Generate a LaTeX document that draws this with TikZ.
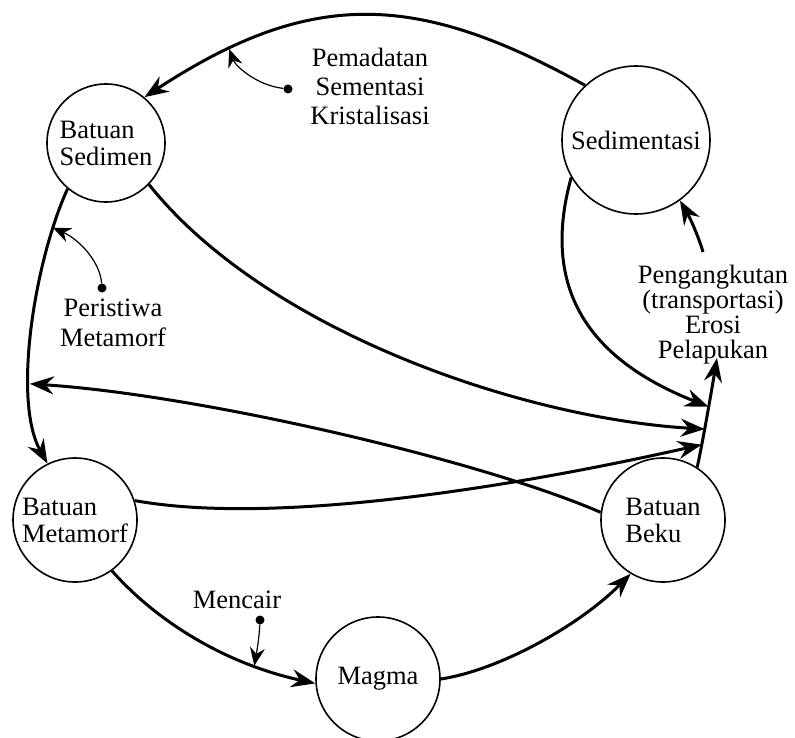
\documentclass[tikz,border=0pt]{standalone}
\usepackage{fontspec}
\setmainfont{Liberation Serif}
\usetikzlibrary{arrows.meta}
\begin{document}
\begin{tikzpicture}[x=1pt,y=-1pt,
  rock/.style={draw, circle, line width=1.6pt, inner sep=0pt, align=left,
    font=\fontsize{26.5}{27}\selectfont},
  flow/.style={line width=3pt, -{Stealth[length=24pt,width=18pt,inset=8pt]}},
  note/.style={line width=1.2pt, -{Stealth[length=18pt,width=15pt,inset=6pt]}},
  lbl/.style={align=center, inner sep=0pt},
  dotmark/.style={fill, circle, inner sep=0pt, minimum size=9pt}]
\useasboundingbox (0,0) rectangle (795,738);

% rock nodes
\node[rock, minimum size=118pt] (bs) at (106,143) {Batuan\\Sedimen};
\node[rock, minimum size=148pt] (sd) at (636,140) {Sedimentasi};
\node[rock, minimum size=124pt] (bm) at (75,520) {Batuan\\Metamorf};
\node[rock, minimum size=124pt] (mg) at (378,679) {Magma};
\node[rock, minimum size=124pt] (bb) at (663,520) {Batuan\\Beku};

% labels
\node[lbl, font=\fontsize{26.5}{29}\selectfont] (pem) at (370,86) {Pemadatan\\Sementasi\\Kristalisasi};
\node[lbl, font=\fontsize{26.5}{25}\selectfont] (peng) at (713,315) {Pengangkutan\\(transportasi)\\Erosi\\Pelapukan};
\node[lbl, font=\fontsize{26.5}{30}\selectfont] (per) at (113,323) {Peristiwa\\Metamorf};
\node[lbl, font=\fontsize{26.5}{27}\selectfont] (men) at (237,600) {Mencair};

\coordinate (peltip) at (717,358);
\coordinate (pengtop) at (703,252);

% weathering line from Batuan Beku
\draw[flow] (bb.57) .. controls (703,440) and (710,400) .. (peltip)
  coordinate[pos=0.25] (tipC) coordinate[pos=0.4] (tipB) coordinate[pos=0.6] (tipA);

% main cycle
\draw[flow] (sd.133) .. controls (417,-8) and (311,-12) .. (bs.50)
  coordinate[pos=0.82] (pemtip);
\draw[flow] (bs.-130) .. controls (35,260) and (12,400) .. (bm.116)
  coordinate[pos=0.16] (pertip) coordinate[pos=0.68] (lefttip);
\draw[flow] (bm.-54) .. controls (160,625) and (230,665) .. (mg.184)
  coordinate[pos=0.75] (mentip);
\draw[flow] (mg.0) .. controls (500,670) and (580,625) .. (bb.-121);

% converging arrows
\draw[flow] (sd.-150) .. controls (540,290) and (590,360) .. (tipA);
\draw[flow] (bs.-44) .. controls (265,330) and (520,418) .. (tipB);
\draw[flow] (bm.18) .. controls (270,525) and (500,490) .. (tipC);
\draw[flow] (bb.173) .. controls (480,460) and (200,395) .. (lefttip);

% transport arrow
\draw[flow] (pengtop) .. controls (698,235) and (690,218) .. (sd.-54);

% annotation arrows
\node[dotmark] (d1) at (288,89) {};
\draw[note] (d1) .. controls (255,85) and (235,65) .. (pemtip);
\node[dotmark] (d2) at (102,288) {};
\draw[note] (d2) .. controls (100,262) and (80,240) .. (pertip);
\node[dotmark] (d3) at (260,620) {};
\draw[note] (d3) .. controls (259,640) and (257,650) .. (mentip);
\end{tikzpicture}
\end{document}
